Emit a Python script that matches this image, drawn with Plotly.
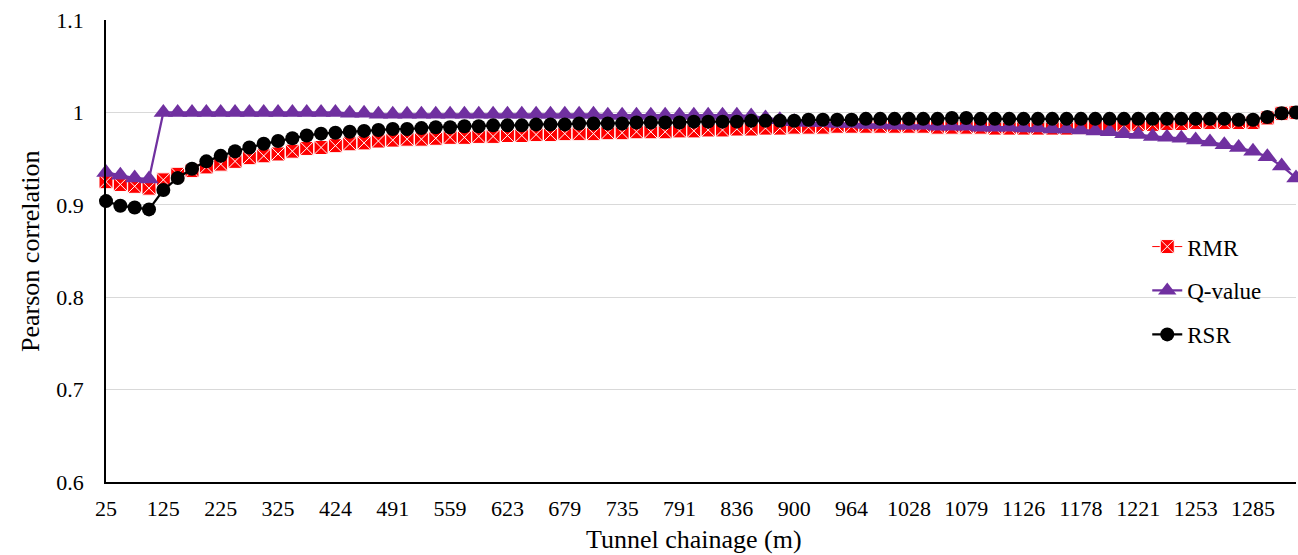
import plotly.graph_objects as go

# ---- data ----
tick_labels = ["25", "125", "225", "325", "424", "491", "559", "623", "679", "735", "791",
               "836", "900", "964", "1028", "1079", "1126", "1178", "1221", "1253", "1285"]
tick_step = 4

rmr = [0.925, 0.922, 0.920, 0.918, 0.927, 0.933, 0.937, 0.941, 0.944, 0.947,
       0.951, 0.953, 0.955, 0.958, 0.961, 0.962, 0.964, 0.966, 0.967, 0.969,
       0.970, 0.971, 0.971, 0.972, 0.973, 0.973, 0.974, 0.974, 0.975, 0.975,
       0.976, 0.976, 0.977, 0.977, 0.977, 0.978, 0.978, 0.979, 0.979, 0.979,
       0.980, 0.980, 0.981, 0.981, 0.982, 0.982, 0.983, 0.983, 0.984, 0.984,
       0.984, 0.985, 0.985, 0.985, 0.985, 0.985, 0.985, 0.985, 0.984, 0.984,
       0.984, 0.984, 0.983, 0.983, 0.983, 0.983, 0.983, 0.983, 0.984, 0.984,
       0.985, 0.986, 0.987, 0.987, 0.988, 0.988, 0.989, 0.989, 0.989, 0.989,
       0.989, 0.994, 0.999, 1.000]

q_value = [0.935, 0.932, 0.929, 0.928, 1.000, 1.000, 1.000, 1.000, 1.000, 1.000,
           1.000, 1.000, 1.000, 1.000, 1.000, 1.000, 1.000, 0.999, 0.999, 0.998,
           0.998, 0.998, 0.998, 0.998, 0.998, 0.998, 0.998, 0.998, 0.998, 0.998,
           0.998, 0.998, 0.998, 0.998, 0.998, 0.997, 0.997, 0.997, 0.997, 0.997,
           0.997, 0.997, 0.997, 0.997, 0.997, 0.996, 0.994, 0.992, 0.990, 0.989,
           0.989, 0.988, 0.988, 0.987, 0.987, 0.986, 0.986, 0.986, 0.985, 0.985,
           0.985, 0.984, 0.984, 0.984, 0.983, 0.983, 0.982, 0.982, 0.981, 0.980,
           0.979, 0.977, 0.976, 0.974, 0.973, 0.972, 0.970, 0.968, 0.965, 0.962,
           0.958, 0.952, 0.942, 0.929]

rsr = [0.904, 0.899, 0.897, 0.895, 0.916, 0.929, 0.939, 0.947, 0.953, 0.958,
       0.962, 0.966, 0.969, 0.972, 0.975, 0.977, 0.978, 0.979, 0.980, 0.981,
       0.982, 0.982, 0.983, 0.984, 0.984, 0.985, 0.985, 0.986, 0.986, 0.986,
       0.987, 0.987, 0.987, 0.988, 0.988, 0.988, 0.988, 0.989, 0.989, 0.989,
       0.989, 0.990, 0.990, 0.990, 0.990, 0.991, 0.991, 0.991, 0.991, 0.992,
       0.992, 0.992, 0.992, 0.993, 0.993, 0.993, 0.993, 0.993, 0.993, 0.994,
       0.994, 0.993, 0.993, 0.993, 0.993, 0.993, 0.993, 0.993, 0.993, 0.993,
       0.993, 0.993, 0.993, 0.993, 0.993, 0.993, 0.993, 0.993, 0.993, 0.992,
       0.992, 0.995, 0.999, 1.000]

x_idx = list(range(len(rsr)))
tick_vals = x_idx[::tick_step]

FONT = "Liberation Serif, Times New Roman, serif"

fig = go.Figure()
fig.add_trace(go.Scatter(
    x=x_idx, y=rmr, name="RMR", mode="lines+markers", legendgroup="a",
    line=dict(color="#FF0000", width=1),
    marker=dict(symbol="square-x", size=14, color="#FF0000",
                line=dict(color="#FFFFFF", width=1)),
    cliponaxis=False))
fig.add_trace(go.Scatter(
    x=x_idx, y=q_value, name="Q-value", mode="lines+markers", legendgroup="b",
    line=dict(color="#7030A0", width=2.25),
    marker=dict(symbol="triangle-up", size=17, color="#7030A0"),
    cliponaxis=False))
fig.add_trace(go.Scatter(
    x=x_idx, y=rsr, name="RSR", mode="lines+markers", legendgroup="c",
    line=dict(color="#000000", width=2.25),
    marker=dict(symbol="circle", size=14, color="#000000"),
    cliponaxis=False))

fig.update_layout(
    width=1298, height=555,
    margin=dict(l=106, r=2, t=20, b=73),
    paper_bgcolor="white", plot_bgcolor="white",
    font=dict(family=FONT, size=22, color="#000000"),
    legend=dict(x=0.875, y=0.556, xanchor="left", yanchor="top",
                bgcolor="rgba(255,255,255,0)", traceorder="grouped",
                tracegroupgap=11, font=dict(size=23, family=FONT)),
    showlegend=True,
    annotations=[
        dict(text="Tunnel chainage (m)", xref="paper", yref="paper",
             x=0.494, y=-0.1255, xanchor="center", yanchor="middle",
             showarrow=False, font=dict(size=26, family=FONT)),
        dict(text="Pearson correlation", xref="paper", yref="paper",
             x=-0.0639, y=0.5, xanchor="center", yanchor="middle", textangle=-90,
             showarrow=False, font=dict(size=26, family=FONT)),
    ],
)
fig.update_xaxes(
    range=[0, len(rsr) - 1], automargin=False,
    tickmode="array", tickvals=tick_vals, ticktext=tick_labels,
    showgrid=False, zeroline=False,
    showline=True, linecolor="#000000", linewidth=2,
    ticks="", ticklabelstandoff=6,
    tickfont=dict(size=22, family=FONT),
)
fig.update_yaxes(
    range=[0.6, 1.1], dtick=0.1, tickformat="~g", automargin=False,
    showgrid=True, gridcolor="#D9D9D9", gridwidth=1.3, zeroline=False,
    showline=True, linecolor="#000000", linewidth=1.5,
    ticks="", ticklabelstandoff=16,
    tickfont=dict(size=22, family=FONT),
)

fig.write_html("out.html", config={"displayModeBar": False},
               post_script="document.body.style.margin='0';")
